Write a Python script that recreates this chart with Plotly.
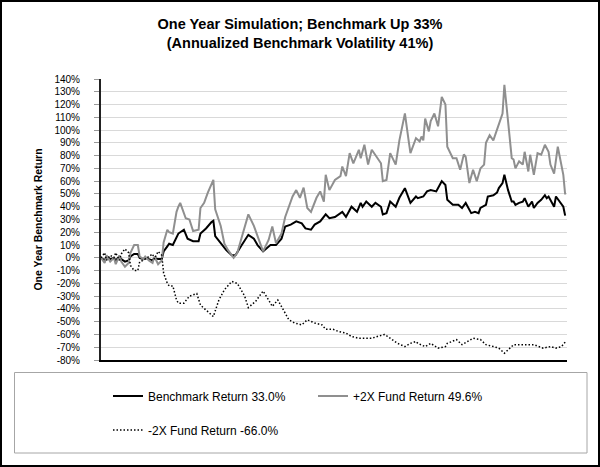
import plotly.graph_objects as go

# ---- data (trading day, cumulative return in %) ----
bench_day = [0,2,3,5,7,8,10,11,13,15,16,18,20,21,23,24,26,28,29,31,33,34,36,37,39,41,42,45,47,50,53,54,57,60,61,62,65,68,71,73,76,80,83,85,88,90,92,95,98,100,103,106,109,111,114,116,119,122,124,127,129,131,133,136,139,141,142,144,147,149,152,153,155,157,160,162,165,168,171,172,175,177,179,182,185,187,188,191,194,196,198,199,201,203,205,206,209,210,213,215,216,218,219,221,223,224,225,227,229,230,232,234,235,237,239,241,242,243,246,247,249,251,252]
bench_ret = [0,-2,1,-1,0,-2,1,-1,-3,-2,1,3,3,0,-1,0,-1,-2,0,-1,-1,5,9,11,10,16,19,22,15,13,13,19,23,28,29,17,11.5,6,2,2,9,18,15,10,5,7.5,10,10,15,24.5,26,28.5,27,23,22,26,28.5,34,31,32,33.7,36,32,40,36,43,40,44,40,43,40,34,35,44,40,47,54.5,43,48,46.7,48,52,53,52,60,57,45.4,41.5,41.5,39,43,40,35,36,35,39,41.5,48,49,51,54.6,58.5,65,53,44,44,41.5,43,44,46.7,40,44,39,43,45.4,49,46.7,48,40,48,44,40,33]

plus_day = [0,2,3,5,7,8,10,11,13,15,16,18,20,21,23,24,26,28,29,31,33,34,36,37,39,41,42,43,46,48,50,53,54,56,58,60,61,62,65,67,69,72,74,77,80,83,85,88,91,93,95,98,100,103,104,106,108,110,112,114,117,119,121,122,124,127,130,131,133,135,137,140,141,143,145,147,149,152,153,155,157,160,162,165,167,168,171,173,174,175,176,178,179,181,183,185,187,188,191,193,195,197,198,200,202,204,206,208,209,211,213,215,217,218,219,221,223,224,225,227,229,230,232,233,235,237,239,241,243,244,246,248,250,251,252]
plus_ret = [0,-4,2,-3,0,-5,2,-3,-7,-4,4,10,10,1,-1,1,-2,-4,1,-5,-2,12,22,20,19,36,40,43,31,30,21,22,39,43,51,58,61,38,25,11,6,0,4,19,34,25,17,5,14,24.5,11.5,19,32,45,48,53,47,55,39,36,47,52,44,65,53,61,64,71.5,64,82,74,84.6,78,88.5,73,84.6,80.7,74,60,61,82,73,92,113,92,82,93.7,91,95,92,109,99,107,113,103,126,120,87,78,78,69,81,79,58.5,69,60,70,73,90,96,92,100,109,113,135.5,105.5,78,77,70,75.5,73,83,67.6,80.7,65,82,80.7,88.5,83,73,66,87,71.5,65,49.6]

minus_day = [0,2,3,5,7,8,10,11,13,15,16,18,20,21,23,24,26,28,29,31,33,34,36,37,39,41,42,45,48,52,54,58,61,64,67,71,74,78,80,84,86,88,91,93,96,99,102,105,109,112,116,120,122,126,129,133,136,140,143,147,150,154,158,161,165,168,171,172,176,179,183,187,188,193,196,199,202,206,209,213,216,217,219,222,224,231,235,240,244,247,250,252]
minus_ret = [0,4,-2,2,0,4,-2,3,7,4,-6,-10,-10,-3,-2,-1,1,3,-1,5,2,-12,-20,-22,-22,-33,-35.5,-35.5,-30,-28,-37,-42,-46,-33,-25,-18.5,-20,-30,-39,-34,-30,-26,-33,-38,-33,-41,-48.5,-51,-52.5,-48.5,-51,-52.5,-56,-56,-57.7,-59,-61.6,-63,-63,-63,-61.6,-60,-64,-67,-69.5,-67,-65.5,-67,-69.5,-67,-70.7,-69.5,-67,-64,-68,-65.5,-63,-64,-68,-69.5,-70.7,-72,-74.7,-70.7,-68,-68,-68,-70.7,-69.5,-70.7,-69.5,-66]

series_names = ["Benchmark Return 33.0%", "+2X Fund Return 49.6%", "-2X Fund Return -66.0%"]
y_ticks = list(range(-80, 141, 10))

assert len(bench_day) == len(bench_ret)
assert len(plus_day) == len(plus_ret)
assert len(minus_day) == len(minus_ret)

FONT = "Liberation Sans, Arial, Helvetica, sans-serif"
W, H = 600, 467
L, R, T, B = 101, 33, 79, 107
PW, PH = W - L - R, H - T - B

def px(xp):
    return (xp - L) / PW

def py(yp):
    return (H - B - yp) / PH

fig = go.Figure()
fig.add_trace(go.Scatter(x=bench_day, y=bench_ret, mode="lines", name=series_names[0],
                         line=dict(color="#000000", width=2), legend="legend"))
fig.add_trace(go.Scatter(x=plus_day, y=plus_ret, mode="lines", name=series_names[1],
                         line=dict(color="#8f8f8f", width=2), legend="legend"))
fig.add_trace(go.Scatter(x=minus_day, y=minus_ret, mode="lines", name=series_names[2],
                         line=dict(color="#000000", width=1.5, dash="1.5px,2px"), legend="legend2"))

fig.update_layout(
    width=W, height=H,
    margin=dict(l=L, r=R, t=T, b=B),
    paper_bgcolor="white", plot_bgcolor="white",
    font=dict(family=FONT, color="#000000"),
    title=dict(text="<b>One Year Simulation; Benchmark Up 33%<br>(Annualized Benchmark Volatility 41%)</b>",
               x=0.5, xanchor="center", y=1 - 29 / H, yanchor="top", yref="container",
               font=dict(size=14.5, family=FONT, color="#000000")),
    xaxis=dict(range=[0, 253], showticklabels=False, ticks="", showgrid=False, zeroline=False,
               showline=True, linecolor="#000000", linewidth=1.5),
    yaxis=dict(range=[-80, 140], tickvals=y_ticks, ticktext=[f"{v}%" for v in y_ticks],
               showgrid=True, gridcolor="#d9d9d9", gridwidth=1, zeroline=False,
               showline=True, linecolor="#222222", linewidth=2,
               ticks="outside", ticklen=5, tickcolor="#999999", ticklabelstandoff=12,
               tickfont=dict(size=10, family=FONT, color="#000000"),
               title=dict(text="<b>One Year Benchmark Return</b>", font=dict(size=10.5, family=FONT),
                          standoff=10)),
    legend=dict(orientation="h", x=px(108), y=py(396), xanchor="left", yanchor="middle",
                entrywidth=160, entrywidthmode="pixels", font=dict(size=12, family=FONT),
                bgcolor="rgba(0,0,0,0)", borderwidth=0),
    legend2=dict(orientation="h", x=px(108), y=py(430), xanchor="left", yanchor="middle",
                 font=dict(size=12, family=FONT), bgcolor="rgba(0,0,0,0)", borderwidth=0),
    shapes=[
        dict(type="rect", xref="paper", yref="paper", x0=px(14.5), x1=px(587), y0=py(453), y1=py(372.5),
             line=dict(color="#a6a6a6", width=1), fillcolor="rgba(0,0,0,0)", layer="below"),
        dict(type="rect", xref="paper", yref="paper", x0=px(1), x1=px(599), y0=py(466), y1=py(1),
             line=dict(color="#000000", width=2), fillcolor="rgba(0,0,0,0)"),
    ],
)

fig.write_html("out.html", config={"displayModeBar": False},
               post_script="document.body.style.margin='0';document.body.style.overflow='hidden';")
